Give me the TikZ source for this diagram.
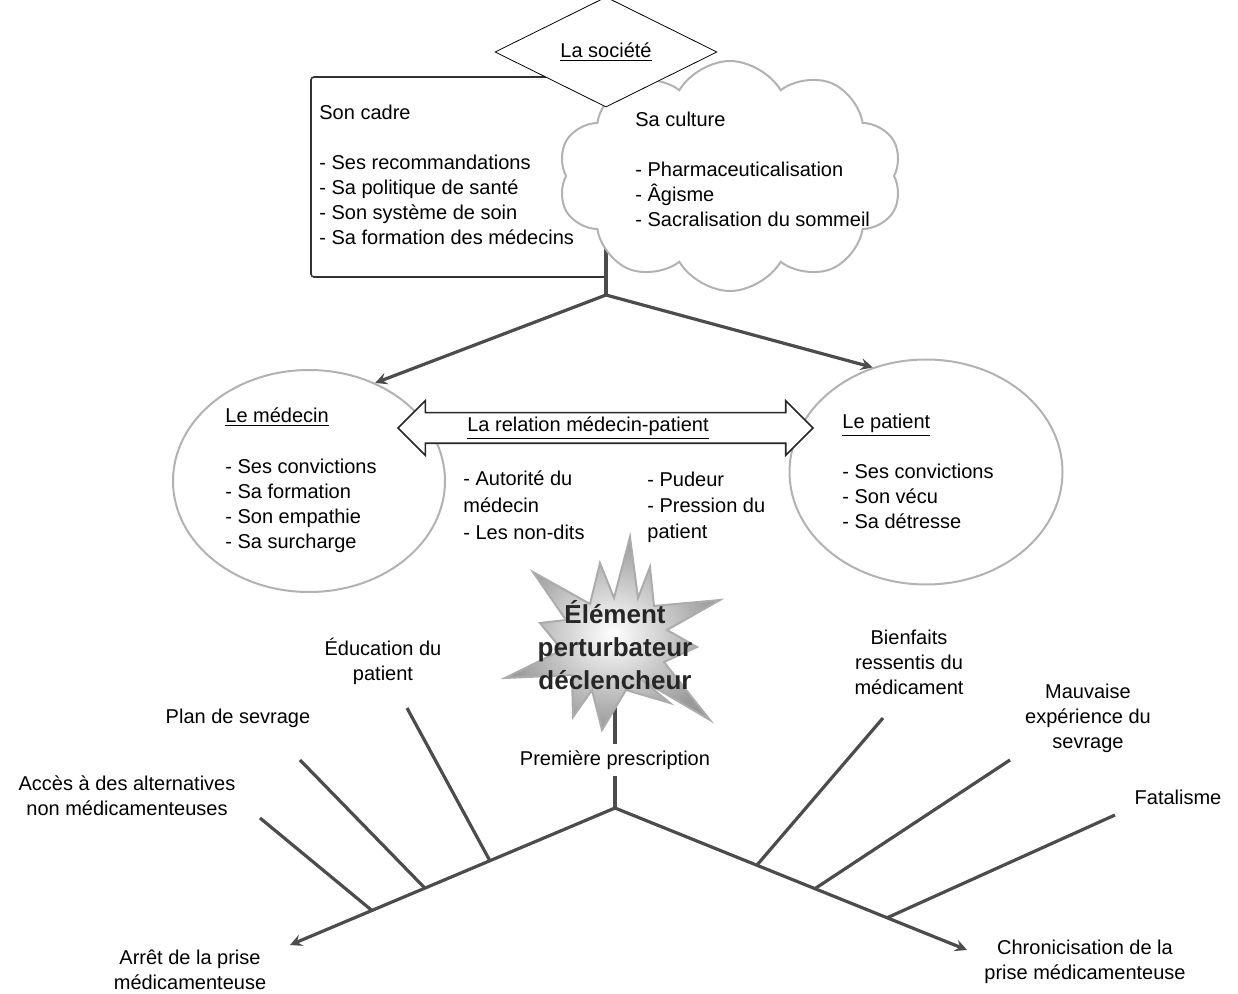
\documentclass[tikz,border=0pt]{standalone}
\usepackage{fontspec}
\setmainfont{Liberation Sans}
\usetikzlibrary{shapes.geometric,shapes.symbols,shapes.arrows,calc}

\tikzset{
  texte/.style={inner sep=0pt},
  liste/.style={texte, align=left, anchor=north west},
  etiquette/.style={texte, align=center},
  trait/.style={line width=1.6pt, draw=black!70},
  bulle/.style={ellipse, draw=gray!60, line width=1pt},
}

\begin{document}
\begin{tikzpicture}[x=0.5pt,y=-0.5pt,>=stealth,font=\fontsize{10}{12.5}\selectfont]
\useasboundingbox (0,0) rectangle (1238,994);
%la societe : cadre, culture
\node[draw=black!80, line width=0.8pt, rounded corners=1.5pt, minimum width=147.5pt, minimum height=100pt] (cadre) at (458.5,177) {};
\coordinate (haut) at (606,222);
\coordinate (jonction) at (606,295);
\draw[trait] (haut) -- (jonction);
\node[cloud, cloud puffs=10, cloud puff arc=120, cloud ignores aspect, draw=gray!60, line width=1pt, fill=white, minimum width=172pt, minimum height=115pt] (culture) at (730,176) {};
\node[diamond, draw, fill=white, inner sep=0pt, minimum width=111pt, minimum height=39.5pt] (societe) at (606,52) {\underline{La société}};
\node[liste] (cadreT) at (319,105) {Son cadre\\[12.5pt]- Ses recommandations\\- Sa politique de santé\\- Son système de soin\\- Sa formation des médecins};
\node[liste] (cultureT) at (635,112) {Sa culture\\[12.5pt]- Pharmaceuticalisation\\- Âgisme\\- Sacralisation du sommeil};
%medecin et patient
\node[bulle, minimum width=136pt, minimum height=111pt] (medecin) at (309,481) {};
\node[bulle, minimum width=136.5pt, minimum height=112.5pt] (patient) at (926,472) {};
\draw[trait,->] (jonction) -- (medecin.56);
\draw[trait,->] (jonction) -- (patient.117);
\node[liste] (medecinT) at (225,407) {\underline{Le médecin}\\[13pt]- Ses convictions\\- Sa formation\\- Son empathie\\- Sa surcharge};
\node[liste] (patientT) at (842,414) {\underline{Le patient}\\[12.5pt]- Ses convictions\\- Son vécu\\- Sa détresse};
%la relation
\node[double arrow, draw=black!85, line width=0.8pt, fill=white, minimum height=207.5pt, minimum width=26.5pt, double arrow head extend=6pt, inner xsep=0pt, inner ysep=7.25pt] (fleche) at (605.5,428) {};
\node[texte] (relation) at (588,428) {\underline{La relation médecin-patient}};
\node[liste, font=\fontsize{10}{13.5}\selectfont] (autorite) at (463,470) {- Autorité du\\médecin\\- Les non-dits};
\node[liste, font=\fontsize{10}{13}\selectfont] (pudeur) at (647,472) {- Pudeur\\- Pression du\\patient};
%element declencheur
\coordinate (etoileC) at (615,640);
\node[texte, inner sep=3.3pt] (premiere) at (615,760) {Première prescription};
\coordinate (noeud) at (615,808);
\draw[trait] (etoileC) -- (premiere);
\draw[trait] (premiere) -- (noeud);
%etoile irreguliere
\draw[draw=gray!65, line width=1pt, inner color=white, outer color=gray!80]
  (630,537) -- (638,598) -- (650,567) -- (654,606) -- (720,600) -- (667,630)
  -- (697,647) -- (664,662) -- (710,720) -- (642,680) -- (670,703) -- (626,690)
  -- (602,730) -- (592,690) -- (573,717) -- (572,675) -- (505,678) -- (562,650)
  -- (540,623) -- (566,620) -- (533,572) -- (590,604) -- (600,563) -- (614,598) -- cycle;
\node[texte, align=center, font=\fontsize{13}{16.5}\selectfont\bfseries, text=black!85] (element) at (615,645) {Élément\\perturbateur\\déclencheur};
%aretes
\coordinate (finG) at (290,945);
\coordinate (finD) at (967,950);
\draw[trait,->] (noeud) -- (finG);
\draw[trait,->] (noeud) -- (finD);
\coordinate (educ) at (407,708);
\coordinate (plan) at (300,760);
\coordinate (acces) at (260,818);
\coordinate (bienfaits) at (883,718);
\coordinate (mauvaise) at (1010,760);
\coordinate (fatal) at (1115,815);
\foreach \t/\c in {0.385/educ, 0.585/plan, 0.748/acces}
  \draw[trait] ($(noeud)!\t!(finG)$) -- (\c);
\foreach \t/\c in {0.403/bienfaits, 0.568/mauvaise, 0.773/fatal}
  \draw[trait] ($(noeud)!\t!(finD)$) -- (\c);
%etiquettes
\node[etiquette] (educT) at (383,661) {Éducation du\\patient};
\node[etiquette] (planT) at (238,718) {Plan de sevrage};
\node[etiquette] (accesT) at (127,796) {Accès à des alternatives\\non médicamenteuses};
\node[etiquette] (arretT) at (190,970) {Arrêt de la prise\\médicamenteuse};
\node[etiquette] (bienT) at (909,662) {Bienfaits\\ressentis du\\médicament};
\node[etiquette] (mauvT) at (1088,718) {Mauvaise\\expérience du\\sevrage};
\node[etiquette] (fatalT) at (1178,797) {Fatalisme};
\node[etiquette] (chronT) at (1085,962) {Chronicisation de la\\prise médicamenteuse};
\end{tikzpicture}
\end{document}
